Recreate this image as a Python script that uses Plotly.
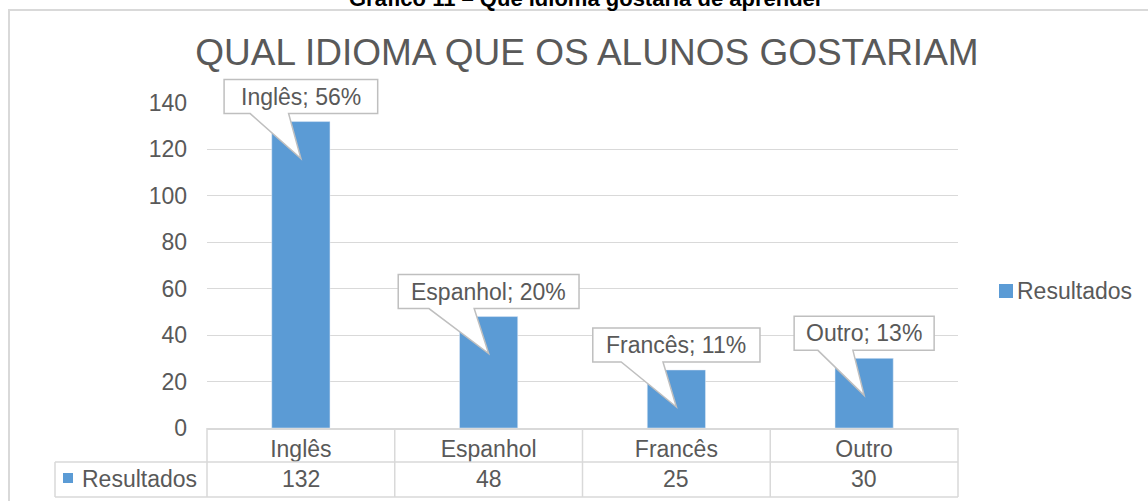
import plotly.graph_objects as go

# data
categories = ["Inglês", "Espanhol", "Francês", "Outro"]
resultados = [132, 48, 25, 30]
y_ticks = [0, 20, 40, 60, 80, 100, 120, 140]
series_name = "Resultados"
chart_title = "QUAL IDIOMA QUE OS ALUNOS GOSTARIAM"
caption = "Gráfico 11 – Que idioma gostaria de aprender"

total = sum(resultados)
callout_labels = [f"{c}; {round(100 * v / total)}%" for c, v in zip(categories, resultados)]

# page / plot area geometry (pixels)
W, H = 1148, 501
L, R, T, B = 207, 958, 103, 428
Y_MAX = y_ticks[-1]

FONT = "Liberation Sans, Arial, sans-serif"
TEXT = "#595959"
GRID = "#d9d9d9"
BAR = "#5b9bd5"
CALLOUT_LINE = "#bfbfbf"


def px_x(px):
    return (px - L) / (R - L)


def px_y(py):
    return (B - py) / (B - T)


fig = go.Figure()

fig.add_trace(go.Bar(
    x=list(range(len(categories))),
    y=resultados,
    name=series_name,
    marker_color=BAR,
    width=0.31,
    showlegend=False,
))

shapes = []
annotations = []

# callouts: box + pointer drawn as one path, anchored on bar top
for i, (lab, v) in enumerate(zip(callout_labels, resultados)):
    w = len(lab) * 13.6 + 4
    left, right = -w / 2, w / 2
    top, bottom = 42, 8
    b1, b2 = -0.33 * w, -0.08 * w
    path = (f"M{left},{bottom} L{left},{top} L{right},{top} L{right},{bottom} "
            f"L{b2},{bottom} L0,-37 L{b1},{bottom} Z")
    shapes.append(dict(
        type="path", xref="x", yref="paper",
        xsizemode="pixel", ysizemode="pixel",
        xanchor=i, yanchor=v / Y_MAX,
        path=path, fillcolor="white",
        line=dict(color=CALLOUT_LINE, width=1.5), layer="above",
    ))
    annotations.append(dict(
        x=i, y=v / Y_MAX, xref="x", yref="paper", text=lab, showarrow=False,
        yshift=25, xanchor="center", yanchor="middle",
        font=dict(family=FONT, size=23, color=TEXT),
    ))

# data table under the axis
n = len(categories)
for k in range(n + 1):
    shapes.append(dict(type="line", xref="paper", yref="paper",
                       x0=k / n, x1=k / n, y0=px_y(428), y1=px_y(497),
                       line=dict(color=GRID, width=1.5)))
for py in (462, 497):
    shapes.append(dict(type="line", xref="paper", yref="paper",
                       x0=px_x(55), x1=1, y0=px_y(py), y1=px_y(py),
                       line=dict(color=GRID, width=1.5)))
shapes.append(dict(type="line", xref="paper", yref="paper",
                   x0=px_x(55), x1=px_x(55), y0=px_y(462), y1=px_y(497),
                   line=dict(color=GRID, width=1.5)))
# row header key
shapes.append(dict(type="rect", xref="paper", yref="paper",
                   x0=px_x(63), x1=px_x(73), y0=px_y(473), y1=px_y(483),
                   fillcolor=BAR, line=dict(width=0)))
annotations.append(dict(x=px_x(80), y=px_y(479), xref="paper", yref="paper",
                        text=series_name, showarrow=False, xanchor="left", yanchor="middle",
                        font=dict(family=FONT, size=23, color=TEXT)))
for i, v in enumerate(resultados):
    annotations.append(dict(x=(i + 0.5) / n, y=px_y(479), xref="paper", yref="paper",
                            text=str(v), showarrow=False, xanchor="center", yanchor="middle",
                            font=dict(family=FONT, size=23, color=TEXT)))

# legend (key square + label) on the right
shapes.append(dict(type="rect", xref="paper", yref="paper",
                   x0=px_x(999), x1=px_x(1013), y0=px_y(284), y1=px_y(298),
                   fillcolor=BAR, line=dict(width=0)))
annotations.append(dict(x=px_x(1015), y=px_y(291), xref="paper", yref="paper",
                        text=series_name, showarrow=False, xanchor="left", yanchor="middle",
                        font=dict(family=FONT, size=23, color=TEXT)))

# outer chart border
shapes.append(dict(type="rect", xref="paper", yref="paper",
                   x0=px_x(9), x1=px_x(1160), y0=px_y(10), y1=px_y(520),
                   line=dict(color=GRID, width=2), layer="below"))

# cropped document caption at the very top
annotations.append(dict(x=px_x(586), y=px_y(13), xref="paper", yref="paper",
                        text=f"<b>{caption}</b>", showarrow=False,
                        xanchor="center", yanchor="bottom",
                        font=dict(family=FONT, size=22, color="black")))

fig.update_layout(
    width=W, height=H,
    margin=dict(l=L, r=W - R, t=T, b=H - B, pad=0, autoexpand=False),
    paper_bgcolor="white", plot_bgcolor="white",
    title=dict(text=chart_title, x=587 / W, xanchor="center",
               y=1 - 52 / H, yanchor="middle",
               font=dict(family=FONT, size=37, color=TEXT)),
    font=dict(family=FONT, size=23, color=TEXT),
    showlegend=False,
    xaxis=dict(range=[-0.5, n - 0.5], tickmode="array",
               tickvals=list(range(n)), ticktext=categories,
               showgrid=False, showline=True, linecolor=GRID, linewidth=1.5,
               ticks="", zeroline=False,
               tickfont=dict(family=FONT, size=23, color=TEXT)),
    yaxis=dict(range=[0, Y_MAX], tickvals=y_ticks, showgrid=True,
               gridcolor=GRID, gridwidth=1, zeroline=False, showline=False,
               ticks="", ticklabelstandoff=19,
               tickfont=dict(family=FONT, size=23, color=TEXT)),
    shapes=shapes,
    annotations=annotations,
    bargap=0.69,
)

# drop the default 8px body margin so the figure fills the window
fig.write_html("out.html", config={"displayModeBar": False},
               post_script="document.body.style.margin='0';")
